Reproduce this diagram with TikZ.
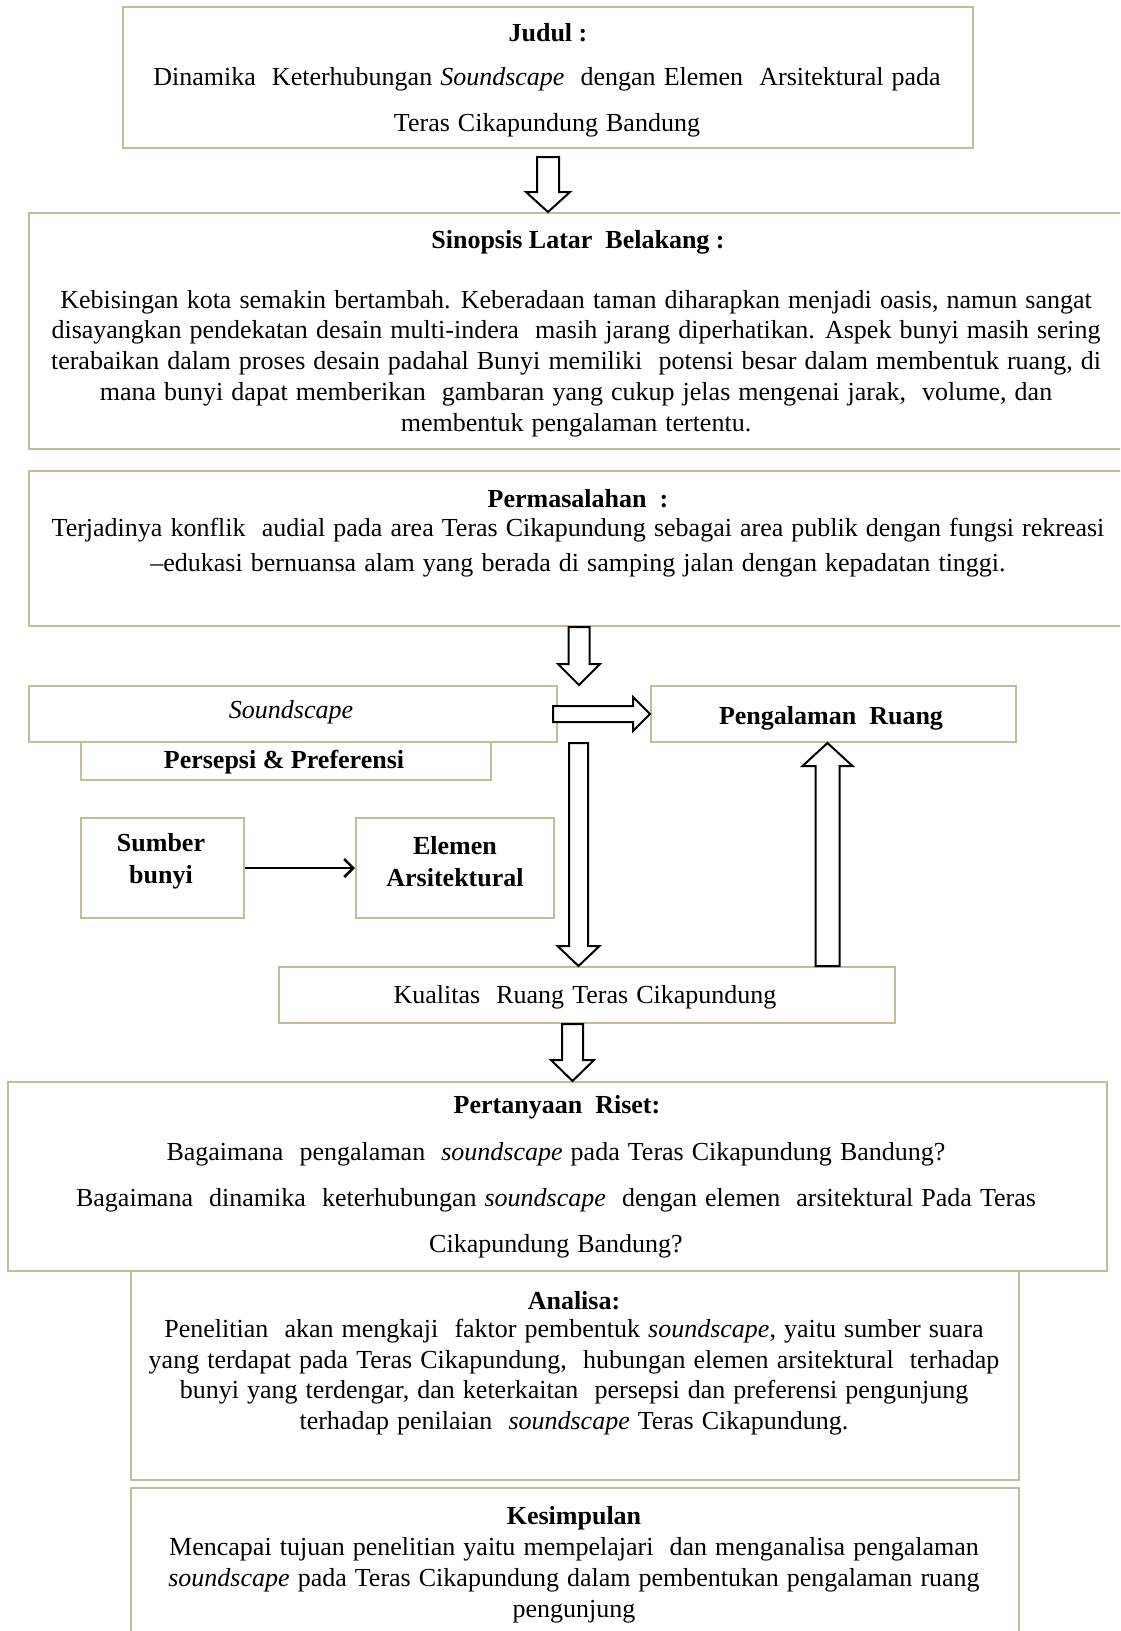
\documentclass[tikz,border=0pt]{standalone}
\usepackage{fontspec}
\setmainfont{Liberation Serif}
\usetikzlibrary{calc,arrows.meta}
\definecolor{boxc}{RGB}{196,188,150}
\newcommand\blkdown[5]{\draw[blockarr] let \p1=#1, \p2=#2 in
  (\x2-#3,\y1) -- (\x2-#3,\y2+#5) -- (\x2-#4,\y2+#5) -- (\x2,\y2) -- (\x2+#4,\y2+#5) -- (\x2+#3,\y2+#5) -- (\x2+#3,\y1) -- cycle;}
\newcommand\blkup[5]{\draw[blockarr] let \p1=#1, \p2=#2 in
  (\x2-#3,\y1) -- (\x2-#3,\y2-#5) -- (\x2-#4,\y2-#5) -- (\x2,\y2) -- (\x2+#4,\y2-#5) -- (\x2+#3,\y2-#5) -- (\x2+#3,\y1) -- cycle;}
\newcommand\blkright[5]{\draw[blockarr] let \p1=#1, \p2=#2 in
  (\x1,\y2-#3) -- (\x2-#5,\y2-#3) -- (\x2-#5,\y2-#4) -- (\x2,\y2) -- (\x2-#5,\y2+#4) -- (\x2-#5,\y2+#3) -- (\x1,\y2+#3) -- cycle;}
\newcommand\wsp{\spaceskip=0.31em plus 0.1em\relax}
\begin{document}
\begin{tikzpicture}[x=1pt,y=-1pt,
  box/.style={draw=boxc, line width=2pt, fill=white, inner sep=0pt},
  blockarr/.style={draw=black, line width=2pt, fill=white, line join=miter},
  txt/.style={inner sep=0pt, align=center, yshift=-2pt, font=\fontsize{26}{31}\selectfont\wsp},
  btxt/.style={txt, font=\fontsize{26}{31}\selectfont\bfseries},
  thinarr/.style={line width=2.5pt, -{Straight Barb[length=9pt,width=18pt]}}]
\useasboundingbox (0,0) rectangle (1120,1631);
\clip (0,0) rectangle (1120,1631);
\fill[white] (0,0) rectangle (1120,1631);

% boxes
\node[box, minimum width=850, minimum height=141] (judul) at (548,77.5) {};
\node[box, minimum width=1098, minimum height=236] (sinopsis) at (578,331) {};
\node[box, minimum width=1098, minimum height=155] (masalah) at (578,548.5) {};
\node[box, minimum width=410, minimum height=38] (persepsi) at (286,761) {};
\node[box, minimum width=528, minimum height=56] (soundscape) at (293,714) {};
\node[box, minimum width=365, minimum height=56] (pengalaman) at (833.5,714) {};
\node[box, minimum width=163, minimum height=100] (sumber) at (162.5,868) {};
\node[box, minimum width=198, minimum height=100] (elemen) at (455,868) {};
\node[box, minimum width=616, minimum height=56] (kualitas) at (587,995) {};
\node[box, minimum width=1099, minimum height=189] (tanya) at (557.5,1176.5) {};
\node[box, minimum width=888, minimum height=209] (analisa) at (575,1375.5) {};
\node[box, minimum width=888, minimum height=157] (kesimpulan) at (575,1566.5) {};

% texts
\node[btxt] (tJudul) at (548,31) {Judul :};
\node[txt, font=\fontsize{26}{46}\selectfont\wsp] (tJudulB) at (547,100)
  {Dinamika\ \ Keterhubungan \textit{Soundscape}\ \ dengan Elemen\ \ Arsitektural pada\\Teras Cikapundung Bandung};
\node[btxt] (tSin) at (578,240) {Sinopsis Latar\ \ Belakang :};
\node[txt, font=\fontsize{26}{30.75}\selectfont\wsp] (tSinB) at (576,361.5)
  {Kebisingan kota semakin\ bertambah. Keberadaan taman diharapkan menjadi oasis, namun sangat\\
   disayangkan pendekatan desain multi-indera\ \ masih jarang diperhatikan. Aspek bunyi masih sering\\
   terabaikan dalam proses desain padahal Bunyi memiliki\ \ potensi besar dalam membentuk\ ruang, di\\
   mana bunyi dapat memberikan\ \ gambaran yang cukup jelas mengenai jarak,\ \ volume, dan\\
   membentuk pengalaman\ tertentu.};
\node[btxt] (tMas) at (578,497) {Permasalahan\ \ :};
\node[txt, font=\fontsize{26}{34.5}\selectfont\wsp] (tMasB) at (578,545.5)
  {Terjadinya konflik\ \ audial pada area Teras Cikapundung sebagai area publik dengan fungsi rekreasi\\
   –edukasi bernuansa alam yang berada di samping jalan dengan kepadatan tinggi.};
\node[txt, font=\fontsize{26}{31}\selectfont\itshape] (tSound) at (291,710) {Soundscape};
\node[btxt] (tPeng) at (831,716) {Pengalaman\ \ Ruang};
\node[btxt] (tPers) at (284,760) {Persepsi \& Preferensi};
\node[btxt, font=\fontsize{26}{32}\selectfont\bfseries] (tSum) at (161,859.5) {Sumber\\bunyi};
\node[btxt, font=\fontsize{26}{32}\selectfont\bfseries] (tElm) at (455,859.5) {Elemen\\Arsitektural};
\node[txt] (tKual) at (585,995) {Kualitas\ \ Ruang Teras Cikapundung};
\node[btxt] (tTanya) at (557,1105) {Pertanyaan\ \ Riset:};
\node[txt, font=\fontsize{26}{46}\selectfont\wsp] (tTanyaB) at (556,1198)
  {Bagaimana\ \ pengalaman\ \ \textit{soundscape} pada Teras Cikapundung Bandung?\\
   Bagaimana\ \ dinamika\ \ keterhubungan \textit{soundscape}\ \ dengan elemen\ \ arsitektural Pada Teras\\
   Cikapundung Bandung?};
\node[btxt] (tAna) at (574,1299) {Analisa:};
\node[txt, font=\fontsize{26}{30.7}\selectfont\wsp] (tAnaB) at (574,1375)
  {Penelitian\ \ akan mengkaji\ \ faktor pembentuk \textit{soundscape}, yaitu sumber suara\\
   yang terdapat pada Teras Cikapundung,\ \ hubungan elemen arsitektural\ \ terhadap\\
   bunyi yang terdengar, dan keterkaitan\ \ persepsi dan preferensi pengunjung\\
   terhadap penilaian\ \ \textit{soundscape} Teras Cikapundung.};
\node[btxt] (tKes) at (574,1516) {Kesimpulan};
\node[txt, font=\fontsize{26}{31}\selectfont\wsp] (tKesB) at (574,1578)
  {Mencapai tujuan penelitian yaitu mempelajari\ \ dan menganalisa pengalaman\\
   \textit{soundscape} pada Teras Cikapundung dalam pembentukan pengalaman ruang\\
   pengunjung};

% connectors
\coordinate (a1s) at ($(judul.south)+(0,8)$);
\blkdown{(a1s)}{(a1s |- sinopsis.north)}{11pt}{22pt}{20pt}
\coordinate (a2s) at ($(masalah.south)+(1,0)$);
\blkdown{(a2s)}{(a2s |- soundscape.north)}{10.5pt}{21pt}{21pt}
\coordinate (a3s) at ($(soundscape.east)+(-5,0)$);
\blkright{(a3s)}{(pengalaman.west)}{8pt}{17pt}{17pt}
\coordinate (a4s) at ($(soundscape.south east)+(20.5,0)$);
\blkdown{(a4s)}{(a4s |- kualitas.north)}{9.5pt}{21pt}{20pt}
\coordinate (a5t) at ($(pengalaman.south)+(-6,0)$);
\blkup{(a5t |- kualitas.north)}{(a5t)}{12pt}{25pt}{23pt}
\coordinate (a6s) at ($(kualitas.south)+(-14.5,0)$);
\blkdown{(a6s)}{(a6s |- tanya.north)}{10.5pt}{21.5pt}{21pt}
\draw[thinarr] (sumber.east) -- (elemen.west);
\end{tikzpicture}
\end{document}
